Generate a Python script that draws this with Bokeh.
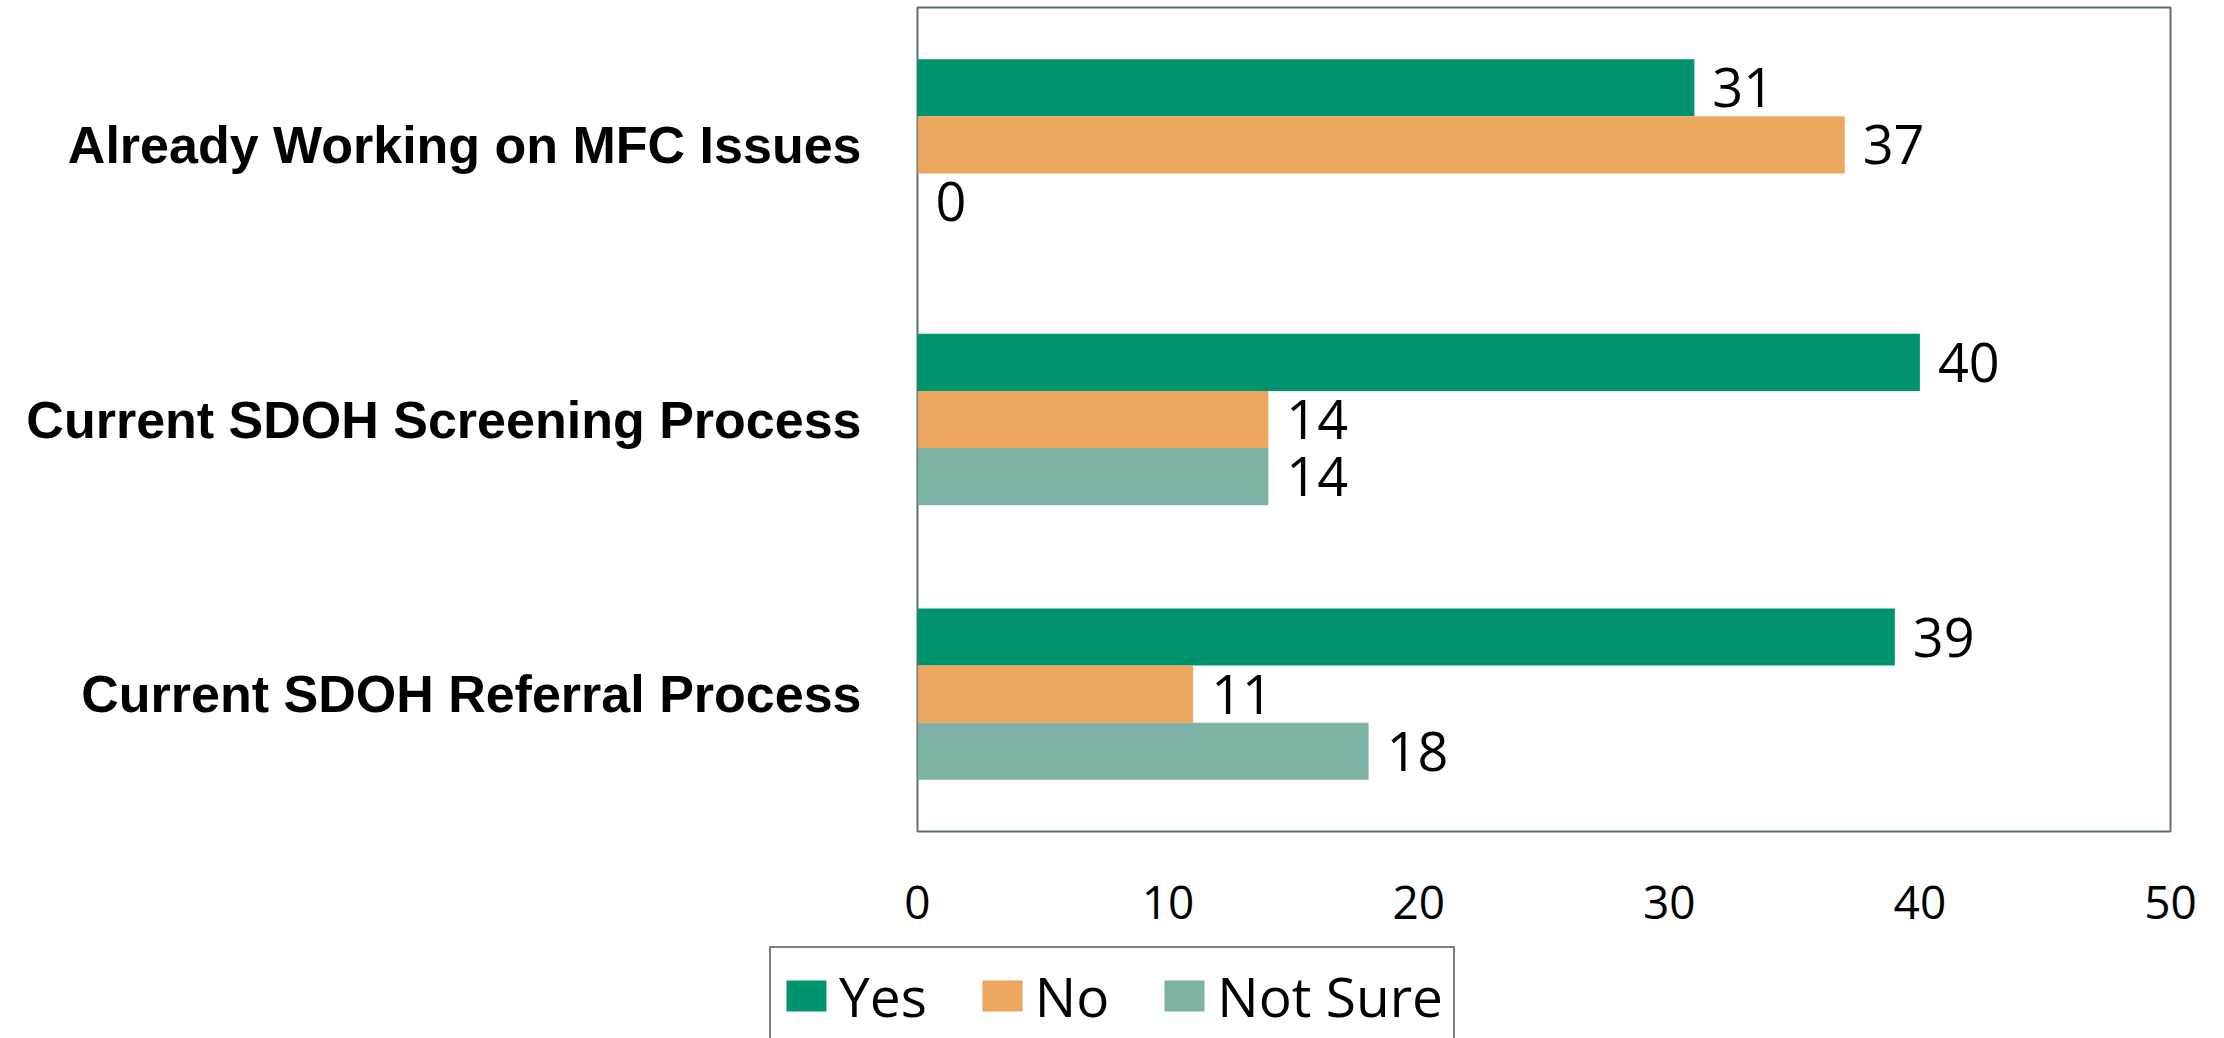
from bokeh.plotting import figure
from bokeh.models import (ColumnDataSource, FactorRange, Range1d, LabelSet, Legend,
                          LegendItem, FixedTicker)
from bokeh.layouts import column
from bokeh.transform import dodge
from bokeh.core.properties import value
from bokeh.embed import file_html
from bokeh.resources import INLINE

categories = ["Already Working on MFC Issues", "Current SDOH Screening Process",
              "Current SDOH Referral Process"]
series = ["Yes", "No", "Not Sure"]
yes = [31, 40, 39]
no = [37, 14, 11]
not_sure = [0, 14, 18]
x_ticks = [0, 10, 20, 30, 40, 50]

colors = ["#00936F", "#ECA65E", "#7FB2A6"]
values_by_series = [yes, no, not_sure]
offsets = [0.208, 0.0, -0.208]
BAR_H = 0.208

p = figure(frame_width=1253, frame_height=824, output_backend="svg", toolbar_location=None,
           y_range=FactorRange(factors=categories[::-1], range_padding=0),
           x_range=Range1d(0, 50),
           min_border_left=917, min_border_right=54, min_border_top=7, min_border_bottom=110)

p.outline_line_color = "#587078"
p.outline_line_width = 2
p.xgrid.visible = False
p.ygrid.visible = False
p.background_fill_color = "white"
p.border_fill_color = "white"

sources = []
for name, vals, col, off in zip(series, values_by_series, colors, offsets):
    src = ColumnDataSource(dict(cat=categories, val=vals, lab=[str(v) for v in vals]))
    sources.append(src)
    p.hbar(y=dodge('cat', off, range=p.y_range), right='val', left=0, height=BAR_H,
           source=src, fill_color=col, line_color=None)
    lbl = LabelSet(x='val', y=dodge('cat', off, range=p.y_range), text='lab', source=src,
                   x_offset=18, text_baseline='middle', text_align='left',
                   text_font_size=value('54px'), text_font=value('Open Sans'),
                   text_color='black')
    p.add_layout(lbl)

# axes
p.xaxis.ticker = FixedTicker(ticks=x_ticks)
p.xaxis.axis_line_color = None
p.xaxis.major_tick_line_color = None
p.xaxis.minor_tick_line_color = None
p.xaxis.major_label_text_font = "Open Sans"
p.xaxis.major_label_text_font_size = "46px"
p.xaxis.major_label_text_color = "black"
p.xaxis.major_label_standoff = 48

p.yaxis.axis_line_color = None
p.yaxis.major_tick_line_color = None
p.yaxis.minor_tick_line_color = None
p.yaxis.major_label_text_font = "Liberation Sans"
p.yaxis.major_label_text_font_style = "bold"
p.yaxis.major_label_text_font_size = "52px"
p.yaxis.major_label_text_color = "black"
p.yaxis.major_label_standoff = 50

# legend strip below the chart (legend box is cut off at the bottom like the reference)
p2 = figure(frame_width=2224, frame_height=97, output_backend="svg", toolbar_location=None,
            x_range=Range1d(1000, 1001),
            y_range=FactorRange(factors=categories[::-1], range_padding=0), min_border=0)
p2.axis.visible = False
p2.xgrid.visible = False
p2.ygrid.visible = False
p2.outline_line_color = None
p2.background_fill_color = "white"
p2.border_fill_color = "white"

items = []
for name, col, src in zip(series, colors, sources):
    # same data, drawn outside this strip's visible range: only its legend swatch shows
    r = p2.hbar(y='cat', right='val', left=0, height=BAR_H, source=src,
                fill_color=col, line_color=None)
    items.append(LegendItem(label=name, renderers=[r]))

legend = Legend(items=items, orientation="horizontal", location="top_center",
                label_text_font="Open Sans", label_text_font_size="55px",
                label_text_color="black",
                glyph_width=50, glyph_height=39, label_standoff=8, spacing=50,
                padding=10, margin=5,
                border_line_color="black", border_line_width=2,
                background_fill_color="white", background_fill_alpha=1)
p2.add_layout(legend, "center")

layout = column(p, p2, spacing=0)
open("out.html", "w").write(file_html(layout, INLINE))
